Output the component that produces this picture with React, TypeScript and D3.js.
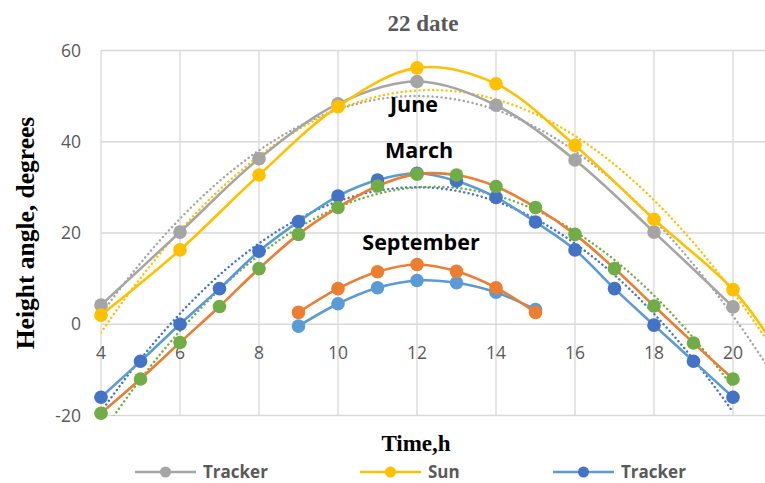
import React from 'react';
import * as d3 from 'd3';

// hours on the x axis
const juneHours = [4, 6, 8, 10, 12, 14, 16, 18, 20];
const juneSunHours = [4, 6, 8, 10, 12, 14, 16, 18, 20, 21];
const marchHours = [4, 5, 6, 7, 8, 9, 10, 11, 12, 13, 14, 15, 16, 17, 18, 19, 20];
const septHours = [9, 10, 11, 12, 13, 14, 15];

// height angle, degrees
const juneTracker = [4.2, 20.2, 36.3, 48.3, 53.2, 48, 36, 20.2, 3.8];
const juneSun = [2.0, 16.3, 32.7, 47.7, 56.2, 52.7, 39.2, 23, 7.6, -4];
const marchTracker = [-16, -8.1, 0, 7.8, 16, 22.5, 28.1, 31.6, 33.1, 31.4, 27.8, 22.4, 16.3, 7.8, -0.2, -8.1, -16];
const marchSun = [-19.5, -12, -4, 3.9, 12.2, 19.7, 25.6, 30.3, 32.9, 32.7, 30.2, 25.6, 19.7, 12.2, 4, -4.1, -12];
const septSun = [2.6, 7.8, 11.5, 13.1, 11.6, 8, 2.6];
const septTracker = [-0.4, 4.5, 8, 9.6, 9.1, 7, 3.2];

const xTicks = [4, 6, 8, 10, 12, 14, 16, 18, 20];
const yTicks = [-20, 0, 20, 40, 60];
const legendItems = ['Tracker', 'Sun', 'Tracker'];

const W = 765;
const H = 483;

const x = d3.scaleLinear().domain([4, 21]).range([101, 772.5]);
const y = d3.scaleLinear().domain([-20, 60]).range([415.5, 50.5]);

// quadratic least squares, like Excel's polynomial trendline
function polyFit2(xs: number[], ys: number[]) {
  const n = xs.length;
  let s1 = 0, s2 = 0, s3 = 0, s4 = 0, t0 = 0, t1 = 0, t2 = 0;
  xs.forEach((xv, i) => {
    const v = ys[i];
    s1 += xv; s2 += xv * xv; s3 += xv ** 3; s4 += xv ** 4;
    t0 += v; t1 += xv * v; t2 += xv * xv * v;
  });
  // solve [[n,s1,s2],[s1,s2,s3],[s2,s3,s4]] * [a,b,c] = [t0,t1,t2]
  const m = [[n, s1, s2, t0], [s1, s2, s3, t1], [s2, s3, s4, t2]];
  for (let i = 0; i < 3; i++) {
    for (let k = i + 1; k < 3; k++) {
      const f = m[k][i] / m[i][i];
      for (let j = i; j < 4; j++) m[k][j] -= f * m[i][j];
    }
  }
  const r = [0, 0, 0];
  for (let i = 2; i >= 0; i--) {
    let s = m[i][3];
    for (let j = i + 1; j < 3; j++) s -= m[i][j] * r[j];
    r[i] = s / m[i][i];
  }
  return (t: number) => r[0] + r[1] * t + r[2] * t * t;
}

const smooth = d3.line<[number, number]>()
  .x(d => x(d[0]))
  .y(d => y(d[1]))
  .curve(d3.curveCatmullRom.alpha(0.5));

const straight = d3.line<[number, number]>()
  .x(d => x(d[0]))
  .y(d => y(d[1]));

function trendPath(xs: number[], ys: number[], from: number, to: number) {
  const f = polyFit2(xs, ys);
  const pts: [number, number][] = d3.ticks(from, to, 120).map(t => [t, f(t)]);
  return straight(pts) || '';
}

const series = [
  { xs: juneHours, ys: juneTracker, line: '#A5A5A5', marker: '#A5A5A5' },
  { xs: juneSunHours, ys: juneSun, line: '#FFC000', marker: '#FFC000' },
  { xs: marchHours, ys: marchTracker, line: '#5B9BD5', marker: '#4472C4' },
  { xs: marchHours, ys: marchSun, line: '#ED7D31', marker: '#70AD47' },
  { xs: septHours, ys: septTracker, line: '#5B9BD5', marker: '#5B9BD5' },
  { xs: septHours, ys: septSun, line: '#ED7D31', marker: '#ED7D31' },
];

const trends = [
  { xs: juneHours, ys: juneTracker, color: '#A5A5A5', from: 4, to: 21 },
  { xs: juneSunHours, ys: juneSun, color: '#FFC000', from: 4, to: 21 },
  { xs: marchHours, ys: marchTracker, color: '#4472C4', from: 4, to: 20 },
  { xs: marchHours, ys: marchSun, color: '#70AD47', from: 4, to: 20 },
];

const legendColors = [
  { line: '#A5A5A5', marker: '#A5A5A5', x: 135 },
  { line: '#FFC000', marker: '#FFC000', x: 360 },
  { line: '#5B9BD5', marker: '#4472C4', x: 553 },
];

const tickFont = '"Open Sans", sans-serif';
const serif = '"Liberation Serif", "Times New Roman", serif';

export default function App() {
  return (
    <svg width={W} height={H} style={{ position: 'absolute', left: 0, top: 0, background: '#fff' }}>
      <defs>
        <clipPath id="plot">
          <rect x={x(4)} y={y(60)} width={W - x(4)} height={y(-20) - y(60)} />
        </clipPath>
      </defs>

      {/* grid */}
      {yTicks.map(t => (
        <line key={'gy' + t} x1={x(4)} x2={W} y1={y(t)} y2={y(t)} stroke="#D9D9D9" strokeWidth={1.3} />
      ))}
      {xTicks.map(t => (
        <line key={'gx' + t} x1={x(t)} x2={x(t)} y1={y(60)} y2={y(-20)} stroke="#D9D9D9" strokeWidth={1.3} />
      ))}

      {/* tick labels */}
      {yTicks.map(t => (
        <text key={'ly' + t} x={81} y={y(t) + 6} textAnchor="end" fontFamily={tickFont} fontSize={17.5} fill="#595959">
          {t}
        </text>
      ))}
      {xTicks.map(t => (
        <text key={'lx' + t} x={x(t)} y={359} textAnchor="middle" fontFamily={tickFont} fontSize={17.5} fill="#595959">
          {t}
        </text>
      ))}

      {/* trendlines */}
      <g clipPath="url(#plot)">
        {trends.map((s, i) => (
          <path key={'t' + i} d={trendPath(s.xs, s.ys, s.from, s.to)} fill="none" stroke={s.color}
            strokeWidth={2.4} strokeDasharray="0.1 4.4" strokeLinecap="round" />
        ))}
      </g>

      {/* series */}
      {series.map((s, i) => {
        const pts: [number, number][] = s.xs.map((h, j) => [h, s.ys[j]]);
        return (
          <g key={'s' + i}>
            <path d={smooth(pts) || ''} fill="none" stroke={s.line} strokeWidth={2.6} />
            {pts.map((p, j) => (
              <circle key={j} cx={x(p[0])} cy={y(p[1])} r={6.8} fill={s.marker} />
            ))}
          </g>
        );
      })}

      {/* annotations */}
      <text x={414} y={112} textAnchor="middle" fontFamily='"Open Sans", sans-serif' fontWeight={700} fontSize={21.5} fill="#000">June</text>
      <text x={419} y={158} textAnchor="middle" fontFamily='"Open Sans", sans-serif' fontWeight={700} fontSize={21.5} fill="#000">March</text>
      <text x={421} y={250} textAnchor="middle" fontFamily='"Open Sans", sans-serif' fontWeight={700} fontSize={21.5} fill="#000">September</text>

      {/* titles */}
      <text x={423} y={31} textAnchor="middle" fontFamily={serif} fontWeight={700} fontSize={23} fill="#595959">22 date</text>
      <text x={416} y={451} textAnchor="middle" fontFamily={serif} fontWeight={700} fontSize={23} fill="#000">Time,h</text>
      <text transform="translate(34,233) rotate(-90)" textAnchor="middle" fontFamily={serif} fontWeight={700} fontSize={25.5} fill="#000">
        Height angle, degrees
      </text>

      {/* legend */}
      {legendColors.map((l, i) => (
        <g key={'lg' + i} transform={`translate(${l.x},472)`}>
          <line x1={0} x2={61} y1={0} y2={0} stroke={l.line} strokeWidth={2.6} />
          <circle cx={30.5} cy={0} r={5.5} fill={l.marker} />
          <text x={68} y={6} fontFamily={tickFont} fontWeight={700} fontSize={17} fill="#595959">{legendItems[i]}</text>
        </g>
      ))}
    </svg>
  );
}
